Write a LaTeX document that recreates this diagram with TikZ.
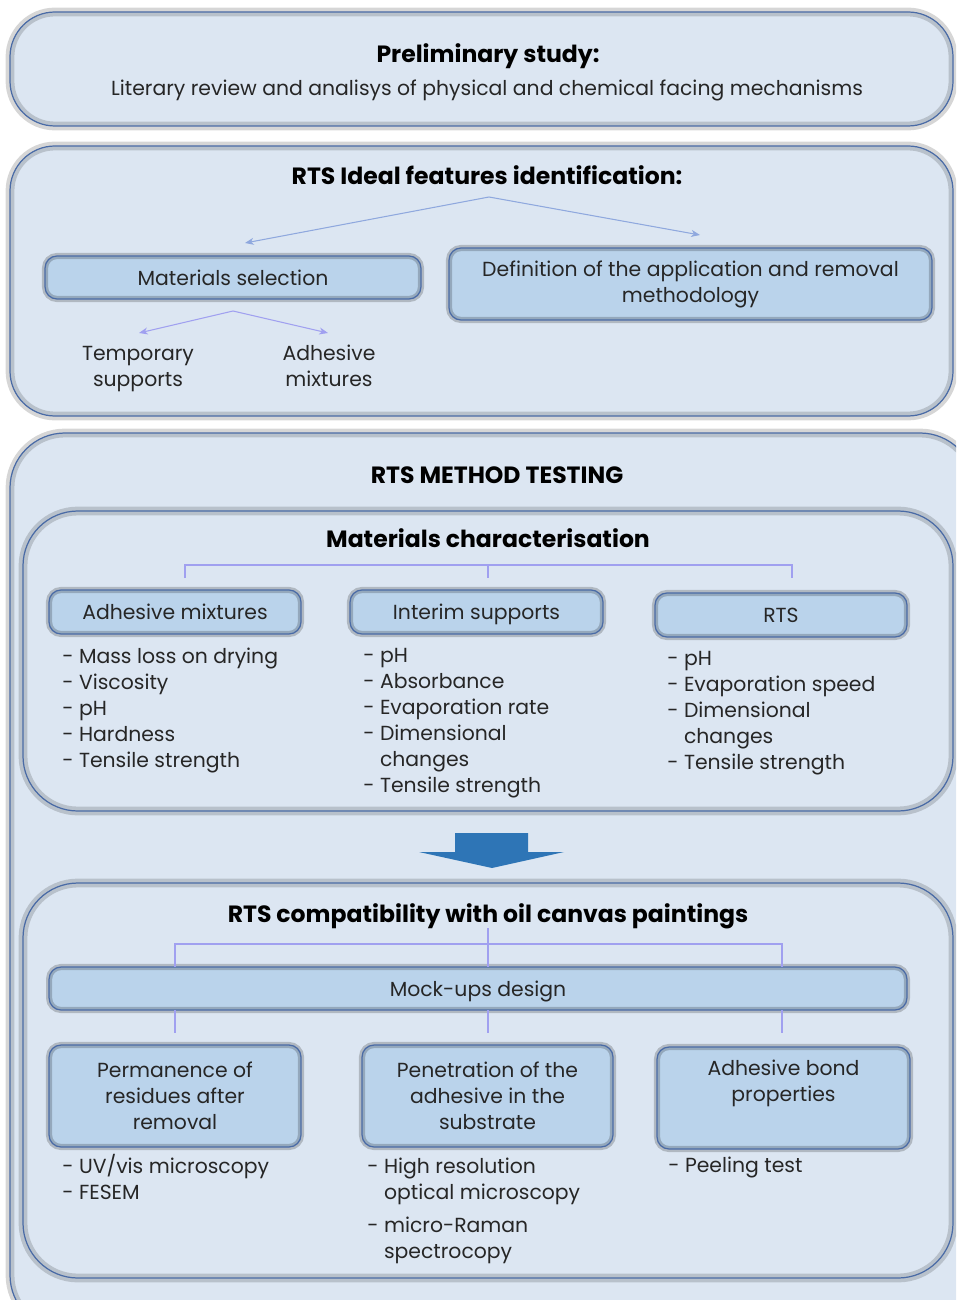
\documentclass[tikz,border=0pt]{standalone}
\usepackage{fontspec}
\setmainfont{Poppins}
\usetikzlibrary{positioning,arrows.meta}

\definecolor{panelfill}{HTML}{DCE6F2}
\definecolor{boxfill}{HTML}{BAD3EB}
\definecolor{frameline}{HTML}{4A6BA6}
\definecolor{linkline}{HTML}{A0A0F0}
\definecolor{splitline}{HTML}{8FA8DE}
\definecolor{arrowblue}{HTML}{2E75B6}
\definecolor{textgray}{HTML}{262626}

\tikzset{
  panel/.style={preaction={fill=panelfill},
    preaction={draw=black, draw opacity=0.16, line width=5pt},
    draw=frameline, line width=0.7pt, rounded corners=0.9cm},
  box/.style={preaction={fill=boxfill},
    preaction={draw=black, draw opacity=0.2, line width=3.5pt},
    draw=frameline, line width=0.7pt, rounded corners=0.24cm,
    align=center, text=textgray, inner sep=2pt,
    font=\fontsize{11.6}{14.8}\selectfont},
  onerow/.style={box, text depth=0pt},
  title/.style={text=black, font=\fontsize{13.4}{15}\selectfont\bfseries},
  plain/.style={text=textgray, align=center, inner sep=0pt,
    font=\fontsize{11.6}{14.8}\selectfont},
  list/.style={text=textgray, align=left, inner sep=0pt, anchor=north west,
    font=\fontsize{11.6}{14.8}\selectfont},
  link/.style={draw=linkline, line width=0.6pt},
  split/.style={draw=splitline, line width=0.6pt,
    -{Stealth[length=5pt,width=4pt,inset=1.5pt]}}
}

\begin{document}
\begin{tikzpicture}[x=0.02cm, y=-0.02cm]
\useasboundingbox (0,0) rectangle (956,1300);
\clip (0,0) rectangle (956,1300);

% preliminary study
\draw[panel] (10,12) rectangle (953,126);
\node[title] (prelim) at (488,56) {Preliminary study:};
\node[plain] (review) at (487,90) {Literary review and analisys of physical and chemical facing mechanisms};

% ideal features
\draw[panel] (10,146) rectangle (953,416);
\node[title] (ideal) at (487,175) {RTS Ideal features identification:};
\coordinate (fork) at (489,197);
\node[onerow, minimum width=7.52cm, minimum height=0.86cm] (matsel) at (233,277.5) {Materials selection};
\node[box, minimum width=9.66cm, minimum height=1.44cm] (method) at (690.5,284)
  {Definition of the application and removal\\methodology};
\draw[split] (fork) -- (245,243);
\draw[split] (fork) -- (700,235);

\coordinate (subfork) at (233,311);
\node[plain] (temp) at (138,369) {Temporary\\supports};
\node[plain] (mix) at (329,366) {Adhesive\\mixtures};
\draw[split, draw=linkline] (subfork) -- (139,333);
\draw[split, draw=linkline] (subfork) -- (328,333);

% method testing
\draw[panel, rounded corners=1.1cm] (10,433) rectangle (975,1330);
\node[title] (testing) at (497,475) {RTS METHOD TESTING};

% materials characterisation
\draw[panel, rounded corners=1.1cm] (23,511) rectangle (953,811);
\node[title] (charact) at (488,538) {Materials characterisation};

\node[onerow, minimum width=5.04cm, minimum height=0.88cm] (adhbox) at (175,612) {Adhesive mixtures};
\node[onerow, minimum width=5.06cm, minimum height=0.88cm] (intbox) at (476.5,612) {Interim supports};
\node[onerow, minimum width=5.04cm, minimum height=0.88cm] (rtsbox) at (781,615) {RTS};

\draw[link] (185,578) -- (185,565) -- (792,565) -- (792,578);
\draw[link] (488,565) -- (488,578);

\node[list] (adhlist) at (62,648) {- Mass loss on drying\\- Viscosity\\- pH\\- Hardness\\- Tensile strength};
\node[list] (intlist) at (363,648) {- pH\\- Absorbance\\- Evaporation rate\\- Dimensional\\\phantom{- }changes\\- Tensile strength};
\node[list] (rtslist) at (667,651) {- pH\\- Evaporation speed\\- Dimensional\\\phantom{- }changes\\- Tensile strength};

% big arrow
\fill[arrowblue] (455,833) -- (528,833) -- (528,852) -- (564,852) -- (492,868)
  -- (419,852) -- (455,852) -- cycle;

% compatibility
\draw[panel, rounded corners=1.1cm] (23,883) rectangle (953,1278);
\node[title] (compat) at (488,916) {RTS compatibility with oil canvas paintings};

\node[onerow, minimum width=17.16cm, minimum height=0.86cm] (mockup) at (478,988.5) {Mock-ups design};
\draw[link] (175,967) -- (175,944) -- (782,944) -- (782,967);
\draw[link] (488,928) -- (488,967);
\foreach \x in {175,488,782}
  \draw[link] (\x,1010) -- (\x,1033);

\node[box, minimum width=5.04cm, minimum height=2.04cm] (perm) at (175,1096)
  {Permanence of\\residues after\\removal};
\node[box, minimum width=5.02cm, minimum height=2.04cm] (pene) at (487.5,1096)
  {Penetration of the\\adhesive in the\\substrate};
\node[box, minimum width=5.06cm, minimum height=2.04cm] (bond) at (783.5,1098)
  {Adhesive bond\\properties\\\strut};

\node[list] (permlist) at (62,1154) {- UV/vis microscopy\\- FESEM};
\node[list] (penelist) at (367,1158) {- High resolution\\\phantom{- }optical microscopy\\[4pt]- micro-Raman\\\phantom{- }spectrocopy};
\node[list] (bondlist) at (668,1157) {- Peeling test};

\end{tikzpicture}
\end{document}
